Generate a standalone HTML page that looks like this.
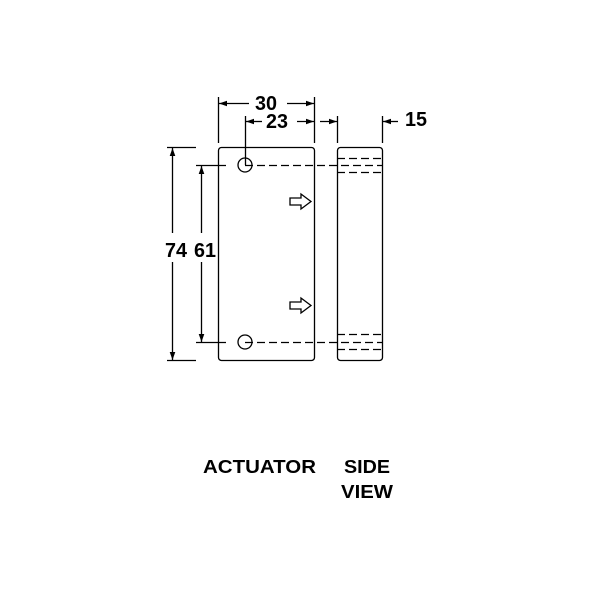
<!DOCTYPE html>
<html><head><style>html,body{margin:0;padding:0;background:#fff;width:600px;height:600px;overflow:hidden}</style></head>
<body>
<svg width="600" height="600" viewBox="0 0 600 600" xmlns="http://www.w3.org/2000/svg">
<defs>
<marker id="a" viewBox="0 0 10 10" refX="10" refY="5" markerWidth="8" markerHeight="8" orient="auto-start-reverse" markerUnits="userSpaceOnUse"><path d="M0,1.5 L10,5 L0,8.5 z" fill="#000"/></marker>
</defs>
<g fill="none" stroke="#000" stroke-width="1.3">
<rect x="218.5" y="147.5" width="96" height="213" rx="3"/>
<rect x="337.5" y="147.5" width="45" height="213" rx="3"/>
<circle cx="245" cy="165" r="7"/>
<circle cx="245" cy="342" r="7"/>
<g stroke-dasharray="8,4">
<line x1="245" y1="165.5" x2="382" y2="165.5"/>
<line x1="245" y1="342.5" x2="382" y2="342.5"/>
<line x1="337" y1="158.5" x2="382" y2="158.5"/>
<line x1="337" y1="172.5" x2="382" y2="172.5"/>
<line x1="337" y1="334.5" x2="382" y2="334.5"/>
<line x1="337" y1="349.5" x2="382" y2="349.5"/>
</g>
<line x1="218.5" y1="97" x2="218.5" y2="143"/>
<line x1="314.5" y1="97" x2="314.5" y2="143"/>
<line x1="245.5" y1="116" x2="245.5" y2="165"/>
<line x1="337.5" y1="116" x2="337.5" y2="143"/>
<line x1="382.5" y1="116" x2="382.5" y2="143"/>
<line x1="167" y1="147.5" x2="196" y2="147.5"/>
<line x1="167" y1="360.5" x2="196" y2="360.5"/>
<line x1="196" y1="165.5" x2="226" y2="165.5"/>
<line x1="196" y1="342.5" x2="226" y2="342.5"/>
<line x1="219" y1="103.5" x2="249" y2="103.5" marker-start="url(#a)"/>
<line x1="287" y1="103.5" x2="314" y2="103.5" marker-end="url(#a)"/>
<line x1="246" y1="121.5" x2="262" y2="121.5" marker-start="url(#a)"/>
<line x1="297" y1="121.5" x2="314" y2="121.5" marker-end="url(#a)"/>
<line x1="320" y1="121.5" x2="337" y2="121.5" marker-end="url(#a)"/>
<line x1="398" y1="121.5" x2="383" y2="121.5" marker-end="url(#a)"/>
<line x1="172.5" y1="148" x2="172.5" y2="233" marker-start="url(#a)"/>
<line x1="172.5" y1="262" x2="172.5" y2="360" marker-end="url(#a)"/>
<line x1="201.5" y1="166" x2="201.5" y2="233" marker-start="url(#a)"/>
<line x1="201.5" y1="262" x2="201.5" y2="342" marker-end="url(#a)"/>
<path d="M290,198 L301,198 L301,194 L311,201.5 L301,209 L301,205 L290,205 z"/>
<path d="M290,302 L301,302 L301,298 L311,305.5 L301,313 L301,309 L290,309 z"/>
</g>
<g font-family="Liberation Sans, Arial, sans-serif" font-weight="bold" font-size="20" fill="#000">
<text x="255" y="110" textLength="22" lengthAdjust="spacingAndGlyphs">30</text>
<text x="266" y="128" textLength="22" lengthAdjust="spacingAndGlyphs">23</text>
<text x="405" y="126" textLength="22" lengthAdjust="spacingAndGlyphs">15</text>
<text x="165" y="257" textLength="22" lengthAdjust="spacingAndGlyphs">74</text>
<text x="194" y="257" textLength="22" lengthAdjust="spacingAndGlyphs">61</text>
<text x="203" y="473" font-size="18" textLength="113" lengthAdjust="spacingAndGlyphs">ACTUATOR</text>
<text x="344" y="473" font-size="18" textLength="46" lengthAdjust="spacingAndGlyphs">SIDE</text>
<text x="341" y="498" font-size="18" textLength="52" lengthAdjust="spacingAndGlyphs">VIEW</text>
</g>
</svg>
</body></html>
